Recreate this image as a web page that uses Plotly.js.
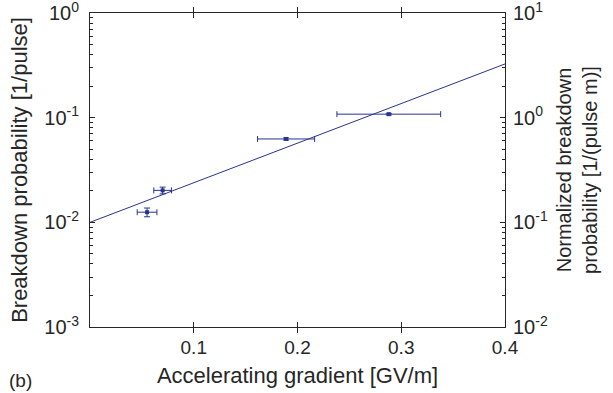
<!DOCTYPE html>
<html>
<head>
<meta charset="utf-8">
<script src="https://cdn.plot.ly/plotly-3.0.1.min.js"></script>
<style>html,body{margin:0;padding:0;background:#fff;}#chart{width:613px;height:393px;}</style>
</head>
<body>
<div id="chart"></div>
<script>
// Measured points
const gradient = [0.055, 0.070, 0.189, 0.288];          // GV/m
const gradientErr = [0.0095, 0.0085, 0.0275, 0.050];
const bdp = [0.0125, 0.0202, 0.0626, 0.108];            // 1/pulse
const bdpErr = [0.0012, 0.0015, 0.0015, 0.002];
// Fit line
const fitX = [0, 0.4];
const fitY = [0.0100, 0.326];
// Normalization: structure length factor (1/m), right axis = left axis x 10
const normFactor = 10;
// Tick labels
const xTickVals = [0.1, 0.2, 0.3, 0.4];
const xTickText = ['0.1', '0.2', '0.3', '0.4'];
const yTickVals = [0.001, 0.01, 0.1, 1];
const yTickText = ['10<sup>-3</sup>', '10<sup>-2</sup>', '10<sup>-1</sup>', '10<sup>0</sup>'];
const y2TickVals = [0.01, 0.1, 1, 10];
const y2TickText = ['10<sup>-2</sup>', '10<sup>-1</sup>', '10<sup>0</sup>', '10<sup>1</sup>'];

function minorVals(lo, hi) {
  const v = [];
  for (let e = lo; e < hi; e++) for (let m = 2; m <= 9; m++) v.push(m * Math.pow(10, e));
  return v;
}

const dataColor = '#28338f';
const ink = '#262626';
const fam = 'Liberation Sans, Arial, Helvetica, sans-serif';
const font = {family: fam, size: 19, color: ink};

const traces = [
  {x: fitX, y: fitY, type: 'scatter', mode: 'lines', line: {color: dataColor, width: 1}, hoverinfo: 'skip'},
  {x: gradient, y: bdp, type: 'scatter', mode: 'markers',
   marker: {symbol: 'square', size: 4, color: dataColor},
   error_x: {type: 'data', array: gradientErr, visible: true, color: dataColor, thickness: 1, width: 3},
   error_y: {type: 'data', array: bdpErr, visible: true, color: dataColor, thickness: 1, width: 3}},
  // normalized fit on the right axis (coincides with the left-axis fit line)
  {x: fitX, y: fitY.map(v => v * normFactor), yaxis: 'y2', type: 'scatter', mode: 'lines',
   line: {color: dataColor, width: 1}, opacity: 0, hoverinfo: 'skip'}
];

const layout = {
  width: 613, height: 393,
  margin: {l: 90, r: 108, t: 13, b: 66},
  paper_bgcolor: '#fff', plot_bgcolor: '#fff',
  showlegend: false,
  font: font,
  xaxis: {
    range: [0, 0.4], tickmode: 'array', tickvals: xTickVals, ticktext: xTickText,
    ticks: 'inside', ticklen: 5, tickcolor: ink, showline: true, linecolor: ink, linewidth: 1,
    mirror: 'allticks', showgrid: false, zeroline: false, ticklabeloverflow: 'allow',
    tickfont: {family: fam, size: 19, color: ink}, ticklabelstandoff: 3,
    title: {text: 'Accelerating gradient [GV/m]', font: {family: fam, size: 22, color: ink}, standoff: 10}
  },
  yaxis: {
    type: 'log', range: [-3, 0], tickmode: 'array', tickvals: yTickVals, ticktext: yTickText,
    ticks: 'inside', ticklen: 5, tickcolor: ink, showline: true, linecolor: ink, linewidth: 1,
    showgrid: false, zeroline: false, ticklabeloverflow: 'allow',
    minor: {tickmode: 'array', tickvals: minorVals(-3, 0), ticks: 'inside', ticklen: 3, tickcolor: ink, showgrid: false},
    tickfont: {family: fam, size: 20, color: ink}, ticklabelstandoff: 6,
    title: {text: 'Breakdown probability [1/pulse]', font: {family: fam, size: 22, color: ink}, standoff: 10}
  },
  yaxis2: {
    type: 'log', range: [-2, 1], overlaying: 'y', side: 'right', anchor: 'x',
    tickmode: 'array', tickvals: y2TickVals, ticktext: y2TickText,
    ticks: 'inside', ticklen: 5, tickcolor: ink, showline: true, linecolor: ink, linewidth: 1,
    showgrid: false, zeroline: false, ticklabeloverflow: 'allow',
    minor: {tickmode: 'array', tickvals: minorVals(-2, 1), ticks: 'inside', ticklen: 3, tickcolor: ink, showgrid: false},
    tickfont: {family: fam, size: 20, color: ink}, ticklabelstandoff: 3,
    title: {text: 'Normalized breakdown<br>probability [1/(pulse m)]', font: {family: fam, size: 20, color: ink}, standoff: 10}
  },
  annotations: [
    {text: '(b)', xref: 'paper', yref: 'paper', x: -0.2, y: -0.169, xanchor: 'left', yanchor: 'middle',
     showarrow: false, font: {family: fam, size: 19, color: ink}}
  ]
};

Plotly.newPlot('chart', traces, layout, {displayModeBar: false, staticPlot: true});
</script>
</body>
</html>
